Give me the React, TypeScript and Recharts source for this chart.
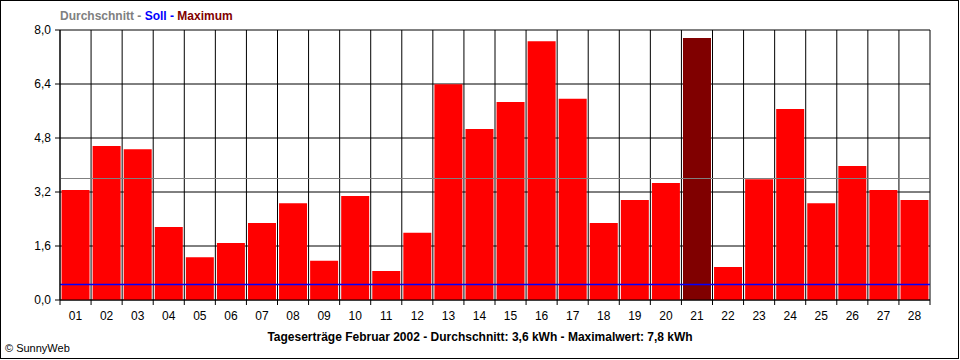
import React from 'react';
import { BarChart, Bar, XAxis, YAxis, CartesianGrid, ReferenceLine, Cell } from 'recharts';

const days = ['01', '02', '03', '04', '05', '06', '07', '08', '09', '10', '11', '12', '13', '14',
  '15', '16', '17', '18', '19', '20', '21', '22', '23', '24', '25', '26', '27', '28'];
const yields = [3.26, 4.56, 4.47, 2.16, 1.27, 1.69, 2.28, 2.87, 1.16, 3.08, 0.86, 1.99, 6.39, 5.07,
  5.87, 7.67, 5.96, 2.28, 2.96, 3.47, 7.76, 0.98, 3.58, 5.66, 2.87, 3.97, 3.26, 2.96];
const yTicks = [0, 1.6, 3.2, 4.8, 6.4, 8.0];
const average = 3.6;
const target = 0.46;
const maxValue = Math.max(...yields);

const data = days.map((day, i) => ({ day, value: yields[i] }));

const FONT = '"Liberation Sans", Arial, sans-serif';
const PLOT_BOTTOM = 300;
const PLOT_LEFT = 60;
const PLOT_W = 870;
const BAND = PLOT_W / days.length;

const fmt = (v: number) => v.toFixed(1).replace('.', ',');

const DayTick = (props: any) => {
  const { x, index, payload } = props;
  const left = x - BAND / 2;
  return (
    <g>
      <line x1={left} y1={PLOT_BOTTOM} x2={left} y2={PLOT_BOTTOM + 5} stroke="#000" />
      {index === days.length - 1 && (
        <line x1={x + BAND / 2} y1={PLOT_BOTTOM} x2={x + BAND / 2} y2={PLOT_BOTTOM + 5} stroke="#000" />
      )}
      <text x={x} y={PLOT_BOTTOM + 16} textAnchor="middle" dominantBaseline="central"
        fontSize={12} fontFamily={FONT} fill="#000">{payload.value}</text>
    </g>
  );
};

export default function App() {
  const gridX = ({ offset }: any) =>
    days.map((_, i) => offset.left + (i * offset.width) / days.length).concat(offset.left + offset.width);

  return (
    <div style={{ position: 'absolute', left: 0, top: 0, width: 960, height: 360, background: '#fff', fontFamily: FONT }}>
      <div style={{ position: 'absolute', left: 0, top: 0, width: 957, height: 357, border: '1px solid #000' }} />
      <div style={{ position: 'absolute', left: PLOT_LEFT, top: 9, fontSize: 12, fontWeight: 'bold', whiteSpace: 'nowrap' }}>
        <span style={{ color: '#808080' }}>Durchschnitt - </span>
        <span style={{ color: '#0000ff' }}>Soll - </span>
        <span style={{ color: '#800000' }}>Maximum</span>
      </div>
      <BarChart width={960} height={360} data={data} barCategoryGap="5%"
        margin={{ top: 30, right: 30, bottom: 30, left: 0 }} style={{ position: 'absolute', left: 0, top: 0 }}>
        <CartesianGrid stroke="#000" strokeOpacity={1} verticalCoordinatesGenerator={gridX} />
        <XAxis dataKey="day" interval={0} height={30} axisLine={{ stroke: '#000' }} tickLine={false} tick={<DayTick />} />
        <YAxis domain={[0, 8]} ticks={yTicks} width={60} interval={0} tickFormatter={fmt}
          axisLine={{ stroke: '#000' }} tickLine={{ stroke: '#000' }} tickSize={5} tickMargin={4}
          tick={{ fill: '#000', fontSize: 12, fontFamily: FONT }} />
        <Bar dataKey="value" isAnimationActive={false}>
          {data.map((d) => (
            <Cell key={d.day} fill={d.value === maxValue ? '#800000' : '#ff0000'} />
          ))}
        </Bar>
        <ReferenceLine y={average} stroke="#808080" strokeWidth={1} />
        <ReferenceLine y={target} stroke="#0000ff" strokeWidth={1.5} />
      </BarChart>
      <div style={{ position: 'absolute', left: 0, width: 960, top: 330, textAlign: 'center', fontSize: 12, fontWeight: 'bold' }}>
        Tageserträge Februar 2002 - Durchschnitt: 3,6 kWh - Maximalwert: 7,8 kWh
      </div>
      <div style={{ position: 'absolute', left: 5, top: 342, fontSize: 11 }}>© SunnyWeb</div>
    </div>
  );
}
